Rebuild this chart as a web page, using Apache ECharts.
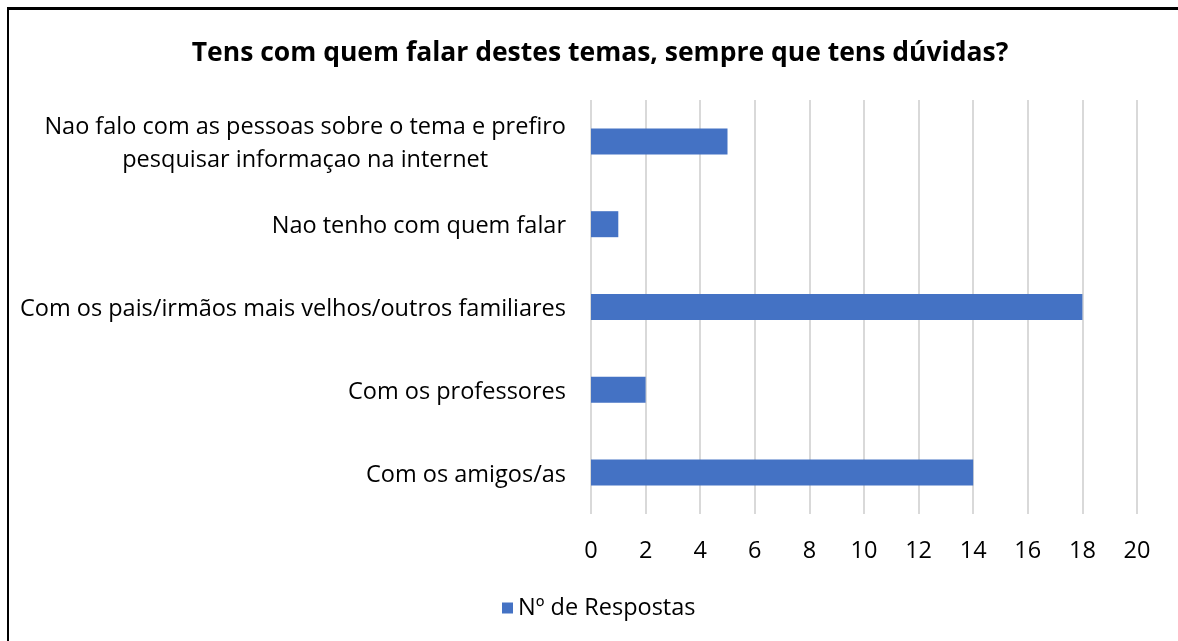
<!DOCTYPE html>
<html>
<head>
<meta charset="utf-8">
<script src="https://cdn.jsdelivr.net/npm/echarts@6/dist/echarts.min.js"></script>
<style>
  html, body { margin: 0; padding: 0; background: #fff; }
  #chart { width: 1178px; height: 641px; }
  #frame { position: absolute; left: 7px; top: 7px; width: 1300px; height: 800px;
           border-left: 2px solid #000; border-top: 3px solid #000; pointer-events: none; }
</style>
</head>
<body>
<div id="chart"></div>
<div id="frame"></div>
<script>
/* Tens com quem falar - horizontal bar */

const categories = [
  'Nao falo com as pessoas sobre o tema e prefiro\npesquisar informaçao na internet',
  'Nao tenho com quem falar',
  'Com os pais/irmãos mais velhos/outros familiares',
  'Com os professores',
  'Com os amigos/as'
];
const respostas = [5, 1, 18, 2, 14];
const seriesName = 'Nº de Respostas';
const titleText = 'Tens com quem falar destes temas, sempre que tens dúvidas?';

const FONT = 'Open Sans';
const FS = 23.5;
const chart = echarts.init(document.getElementById('chart'), null, { renderer: 'canvas' });

const option = {
  animation: false,
  title: {
    text: titleText,
    left: 595, top: 35, textAlign: 'center',
    textStyle: { fontFamily: FONT, fontSize: 26.5, fontWeight: 'bold', color: '#000' }
  },
  legend: {
    top: 591, left: 497,
    itemWidth: 11, itemHeight: 11, itemGap: 5,
    icon: 'rect',
    textStyle: { fontFamily: FONT, fontSize: FS, color: '#000' },
    data: [seriesName]
  },
  grid: { left: 591, right: 41, top: 100, bottom: 127 },
  xAxis: {
    type: 'value', min: 0, max: 20, interval: 2,
    axisLine: { show: false }, axisTick: { show: false },
    axisLabel: { fontFamily: FONT, fontSize: FS, color: '#000', margin: 25 },
    splitLine: { lineStyle: { color: '#d9d9d9', width: 2 } }
  },
  yAxis: {
    type: 'category', inverse: true, data: categories,
    axisLine: { show: false }, axisTick: { show: false },
    axisLabel: {
      fontFamily: FONT, fontSize: FS, color: '#000', margin: 25,
      formatter: v => v.split('\n').map(s => '{c|' + s + '}').join('\n'),
      rich: { c: { fontFamily: FONT, fontSize: FS, color: '#000', align: 'center', lineHeight: 33, padding: [5, 0, 0, 0] } }
    }
  },
  series: [{
    name: seriesName, type: 'bar', data: respostas,
    barWidth: 26,
    itemStyle: { color: '#4472c4' }
  }]
};

chart.setOption(option);
</script>
</body>
</html>
